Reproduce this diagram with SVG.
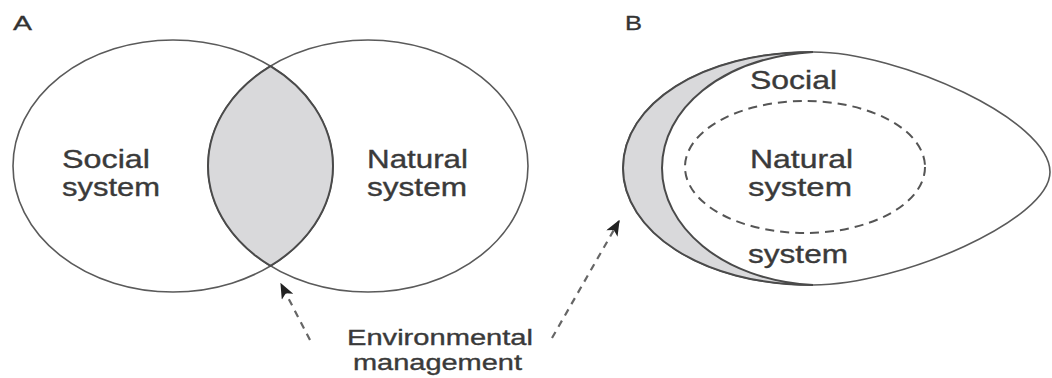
<svg xmlns="http://www.w3.org/2000/svg" width="1052" height="378" viewBox="0 0 1052 378">
<defs>
<style>
.t{font-family:"Liberation Sans",Arial,sans-serif;font-size:25px;fill:#3a3a3a;stroke:#3a3a3a;stroke-width:0.35;}
.t.s{font-size:22px;}
.lbl{font-family:"Liberation Sans",Arial,sans-serif;font-size:21px;fill:#333;stroke:#333;stroke-width:0.3;}
.ol{fill:none;stroke:#5a5a5a;stroke-width:1.6;}
.dash{fill:none;stroke:#555;stroke-width:2;stroke-dasharray:9 6;}
.conn{fill:none;stroke:#666;stroke-width:2.2;stroke-dasharray:7 6;}
</style>
<marker id="ah" viewBox="0 0 12 10" refX="11" refY="5" markerWidth="16" markerHeight="13" markerUnits="userSpaceOnUse" orient="auto">
<path d="M0,0 L12,5 L0,10 L3,5 Z" fill="#222"/>
</marker>
</defs>
<rect width="1052" height="378" fill="#fff"/>
<text class="lbl" x="13" y="30" textLength="19" lengthAdjust="spacingAndGlyphs">A</text>
<text class="lbl" x="625" y="30" textLength="17" lengthAdjust="spacingAndGlyphs">B</text>
<g id="social-system-A">
<ellipse class="ol" cx="173" cy="166" rx="160" ry="126"/>
<text class="t" x="62" y="168" textLength="88" lengthAdjust="spacingAndGlyphs">Social</text>
<text class="t" x="62" y="196" textLength="98" lengthAdjust="spacingAndGlyphs">system</text>
</g>
<g id="natural-system-A">
<ellipse class="ol" cx="368" cy="166" rx="160" ry="126"/>
<text class="t" x="367" y="168" textLength="101" lengthAdjust="spacingAndGlyphs">Natural</text>
<text class="t" x="367" y="196" textLength="100" lengthAdjust="spacingAndGlyphs">system</text>
</g>
<g id="overlap-A">
<path d="M270.5,66.1 A160,126 0 0,0 270.5,265.9 A160,126 0 0,0 270.5,66.1 Z" fill="#d9d9db" stroke="#4a4a4a" stroke-width="2"/>
</g>
<g id="social-system-B">
<path class="ol" d="M813,52 C900,52 1050,120 1050,172 C1050,220 900,285 813,285 C700,285 623,230 623,168 C623,105 700,52 813,52 Z" fill="#fff"/>
<text class="t" x="750" y="89" textLength="87" lengthAdjust="spacingAndGlyphs">Social</text>
<text class="t" x="748" y="263" textLength="100" lengthAdjust="spacingAndGlyphs">system</text>
</g>
<g id="overlap-B">
<path d="M813,52 C700,52 623,105 623,168 C623,230 700,285 813,285 C720,280 662,225 662,168 C662,110 720,58 813,52 Z" fill="#d9d9db" stroke="#4a4a4a" stroke-width="2"/>
</g>
<g id="natural-system-B">
<ellipse class="dash" cx="805" cy="167" rx="120" ry="66"/>
<text class="t" x="750" y="168" textLength="103" lengthAdjust="spacingAndGlyphs">Natural</text>
<text class="t" x="748" y="196" textLength="104" lengthAdjust="spacingAndGlyphs">system</text>
</g>
<g id="environmental-management">
<text class="t s" x="347" y="345" textLength="186" lengthAdjust="spacingAndGlyphs">Environmental</text>
<text class="t s" x="353" y="370" textLength="169" lengthAdjust="spacingAndGlyphs">management</text>
</g>
<g id="connectors">
<path class="conn" d="M310,340 L281,284" marker-end="url(#ah)"/>
<path class="conn" d="M552,338 L619,221" marker-end="url(#ah)"/>
</g>
</svg>
